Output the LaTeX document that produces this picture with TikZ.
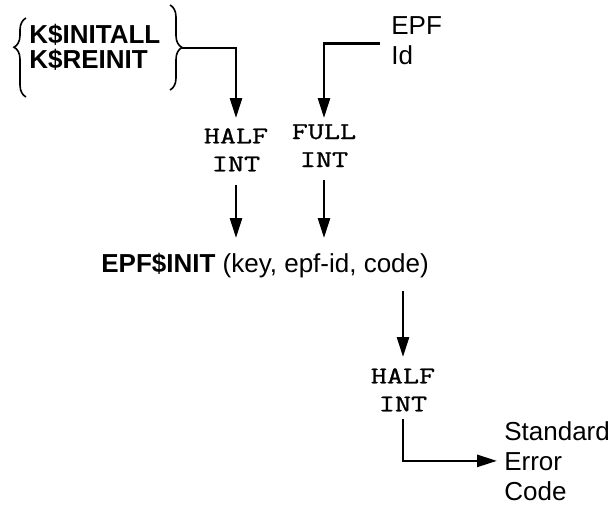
\documentclass[tikz,border=0pt]{standalone}
\usepackage{fontspec}
\setmainfont{Liberation Sans}
\newfontfamily\typefont[FakeStretch=1.3, FakeBold=1.2]{Latin Modern Mono}
\usepackage{tikz}
\usetikzlibrary{arrows.meta}
\usetikzlibrary{decorations.pathreplacing}

\begin{document}
\begin{tikzpicture}[x=0.75pt, y=-0.75pt, line width=2pt,
  every node/.style={inner sep=0pt},
  lab/.style={font=\fontsize{19.5}{22.5}\selectfont, align=left},
  typ/.style={font=\typefont\fontsize{18}{21}\selectfont, align=center},
  arr/.style={-{Triangle[length=15pt,width=9pt]}}]

\useasboundingbox (0,0) rectangle (614,504);

\node[lab, font=\bfseries\fontsize{19.5}{18.75}\selectfont, anchor=north west] (kgrp) at (28,23) {K\$INITALL\\K\$REINIT};
\node[typ, anchor=north] (halfa) at (236,127) {HALF\\INT};
\node[typ, anchor=north] (fulla) at (324,123) {FULL\\INT};
\node[lab, anchor=north west] (epfid) at (390,15) {EPF\\Id};
\node[lab, anchor=north west] (epfinit) at (100,252) {\textbf{EPF\$INIT} (key, epf-id, code)};
\node[typ, anchor=north] (halfb) at (403,367) {HALF\\INT};
\node[lab, anchor=north west] (stdc) at (503,420) {Standard\\Error\\Code};

\draw[line width=1.2pt, decorate, decoration={brace, amplitude=9pt, aspect=0.63}] (26,97) -- (26,18);
\draw[line width=1.2pt, decorate, decoration={brace, amplitude=9pt, aspect=0.5}] (170,5) -- (170,90);
\coordinate (ktip) at (182,48);

\draw[arr, shorten >=6.75pt] (ktip) -| (halfa.north);
\draw[arr, shorten <=7.5pt, shorten >=3.75pt] ([yshift=-2.25pt]epfid.west) -| (fulla.north);
\draw[arr, shorten <=9pt, shorten >=10.5pt] (halfa.south) -- (halfa.south |- epfinit.north);
\draw[arr, shorten <=9pt, shorten >=10.5pt] (fulla.south) -- (fulla.south |- epfinit.north);
\draw[arr, shorten <=9pt, shorten >=7.5pt] (halfb.north |- epfinit.south) -- (halfb.north);
\draw[arr, shorten <=5pt, shorten >=4.5pt] (halfb.south) |- (stdc.west);

\end{tikzpicture}
\end{document}
